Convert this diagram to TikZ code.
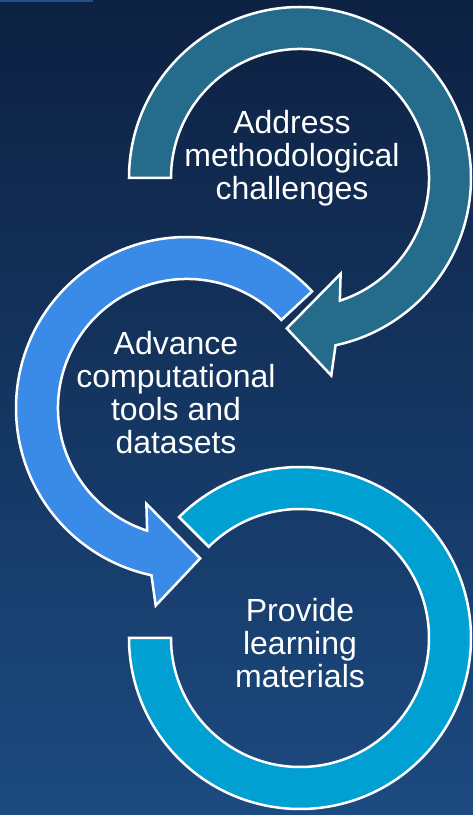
\documentclass[tikz,border=0pt]{standalone}
\usepackage{fontspec}
\setmainfont{Liberation Sans}
\usetikzlibrary{calc}

\definecolor{bgtop}{HTML}{0D2142}
\definecolor{bgbottom}{HTML}{1C4A80}
\definecolor{bluebar}{HTML}{1F4F8D}
\definecolor{tealarc}{HTML}{256B8C}
\definecolor{bluearc}{HTML}{3A8AE8}
\definecolor{cyanarc}{HTML}{00A0D3}

\tikzset{
  ring/.style={draw=white, line width=2.5pt, line join=miter},
  ringtext/.style={text=white, align=center, inner sep=0pt,
    font=\fontsize{32}{33}\selectfont},
}

\begin{document}
\begin{tikzpicture}[x=1pt,y=1pt]
            \shade[top color=bgtop, bottom color=bgbottom] (0,0) rectangle (473,815);
            \useasboundingbox (0,0) rectangle (473,815);
            \fill[bluebar] (0,813) rectangle (93,815);

            \coordinate (T) at (300,637);
            \coordinate (B) at (187,407);
            \coordinate (C) at (300,177);

            % bottom ring, open at the left
            \begin{scope}[shift={(C)}]
              \filldraw[ring, fill=cyanarc] (135:171) arc[start angle=135, end angle=-180, radius=171]
                -- (180:129) arc[start angle=-180, end angle=135, radius=129] -- cycle;
            \end{scope}

            % middle arrow, runs anticlockwise
            \begin{scope}[shift={(B)}]
              \filldraw[ring, fill=bluearc] (43:171) arc[start angle=43, end angle=258, radius=171]
                -- (261:200) -- (275:151) -- (247:104) -- (252:129)
                arc[start angle=252, end angle=43, radius=129] -- cycle;
            \end{scope}

            % top arrow, runs clockwise
            \begin{scope}[shift={(T)}]
              \filldraw[ring, fill=tealarc] (180:171) arc[start angle=180, end angle=-78, radius=171]
                -- (-81:200) -- (-95:151) -- (-67:104) -- (-72:129)
                arc[start angle=-72, end angle=180, radius=129] -- cycle;
            \end{scope}

            \node[ringtext] (address) at (292,657) {Address\\methodological\\challenges};
            \node[ringtext] (advance) at (176,422) {Advance\\computational\\tools and\\datasets};
            \node[ringtext] (provide) at (300,172) {Provide\\learning\\materials};
        \end{tikzpicture}
\end{document}
